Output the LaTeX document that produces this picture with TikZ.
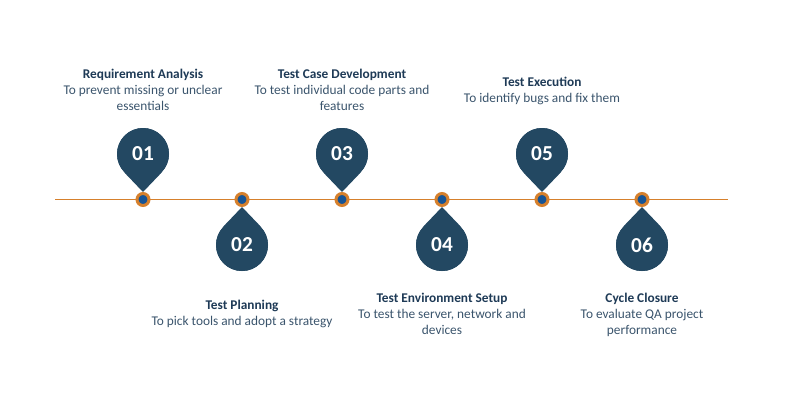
\documentclass[tikz,border=0pt]{standalone}
\usepackage{fontspec}
\setmainfont{Carlito}
\usetikzlibrary{positioning}

\definecolor{pinblue}{RGB}{35,72,98}
\definecolor{dotblue}{RGB}{22,84,150}
\definecolor{ringorange}{RGB}{214,128,44}
\definecolor{titlenavy}{RGB}{30,58,86}
\definecolor{descgray}{RGB}{58,84,108}

\begin{document}
\begin{tikzpicture}[x=0.75pt,y=0.75pt,yscale=-1,xscale=1,
  dotnode/.style={circle,fill=dotblue,draw=ringorange,line width=2.25pt,minimum size=9pt,inner sep=0pt},
  pinnode/.style={circle,fill=pinblue,minimum size=39pt,inner sep=0pt,text=white,font=\fontsize{16}{16}\bfseries},
  stepnote/.style={align=center,inner sep=0pt,text=descgray,font=\fontsize{10}{12}\selectfont}]
\path[use as bounding box] (0,0) rectangle (793,404);

%Timeline bar [id:timeline]
\fill [ringorange] (55,198.7) rectangle (728,200.3) ;

% Dots
\node [dotnode] (d1) at (143,199.5) {};
\node [dotnode] (d2) at (242,199.5) {};
\node [dotnode] (d3) at (342,199.5) {};
\node [dotnode] (d4) at (442,199.5) {};
\node [dotnode] (d5) at (542,199.5) {};
\node [dotnode] (d6) at (642,199.5) {};

% Pins above
\node [pinnode] (p1) at (143,154) {01};
\node [pinnode] (p3) at (342,154) {03};
\node [pinnode] (p5) at (542,154) {05};
% Pins below
\node [pinnode] (p2) at (242,245) {02};
\node [pinnode] (p4) at (442,245) {04};
\node [pinnode] (p6) at (642,245) {06};

% Pin tips
\fill [pinblue] (p1.-45) -- (d1.north) -- (p1.-135) -- (p1.center) -- cycle;
\fill [pinblue] (p3.-45) -- (d3.north) -- (p3.-135) -- (p3.center) -- cycle;
\fill [pinblue] (p5.-45) -- (d5.north) -- (p5.-135) -- (p5.center) -- cycle;
\fill [pinblue] (p2.45) -- (d2.south) -- (p2.135) -- (p2.center) -- cycle;
\fill [pinblue] (p4.45) -- (d4.south) -- (p4.135) -- (p4.center) -- cycle;
\fill [pinblue] (p6.45) -- (d6.south) -- (p6.135) -- (p6.center) -- cycle;
\node [pinnode] at (p1) {01};
\node [pinnode] at (p3) {03};
\node [pinnode] at (p5) {05};
\node [pinnode] at (p2) {02};
\node [pinnode] at (p4) {04};
\node [pinnode] at (p6) {06};

% Text Node
\node [stepnote, anchor=north] (s1) at (143,69) {{\bfseries\color{titlenavy}Requirement Analysis}\\To prevent missing or unclear\\essentials};
% Text Node
\node [stepnote, anchor=north] (s3) at (342,69) {{\bfseries\color{titlenavy}Test Case Development}\\To test individual code parts and\\features};
% Text Node
\node [stepnote, anchor=north] (s5) at (542,77) {{\bfseries\color{titlenavy}Test Execution}\\To identify bugs and fix them};
% Text Node
\node [stepnote, anchor=north] (s2) at (242,300) {{\bfseries\color{titlenavy}Test Planning}\\To pick tools and adopt a strategy};
% Text Node
\node [stepnote, anchor=north] (s4) at (442,293) {{\bfseries\color{titlenavy}Test Environment Setup}\\To test the server, network and\\devices};
% Text Node
\node [stepnote, anchor=north] (s6) at (642,293) {{\bfseries\color{titlenavy}Cycle Closure}\\To evaluate QA project\\performance};

\end{tikzpicture}
\end{document}
